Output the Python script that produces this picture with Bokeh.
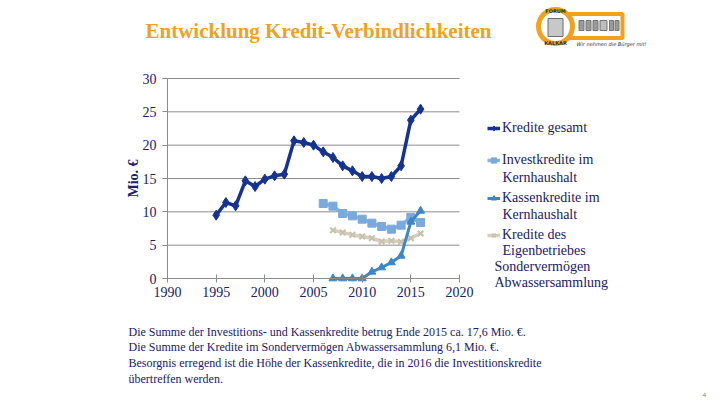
import math
from bokeh.plotting import figure
from bokeh.models import Range1d, Label, Legend, LegendItem, FixedTicker
from bokeh.embed import file_html
from bokeh.resources import INLINE

# ---------------- data ----------------
years_gesamt = list(range(1995, 2017))
kredite_gesamt = [9.5, 11.4, 10.9, 14.65, 13.8, 14.9, 15.4, 15.65, 20.65, 20.4, 20.0,
                  19.0, 18.15, 16.9, 16.15, 15.3, 15.3, 15.0, 15.3, 16.9, 23.75, 25.4]
years_invest = list(range(2006, 2017))
investkredite = [11.25, 10.85, 9.75, 9.4, 8.9, 8.3, 7.8, 7.4, 8.0, 9.15, 8.4]
years_kassen = list(range(2007, 2017))
kassenkredite = [0, 0, 0, 0, 1.0, 1.65, 2.4, 3.4, 8.5, 10.15]
years_abwasser = list(range(2007, 2017))
abwasser = [7.25, 6.9, 6.55, 6.3, 6.05, 5.55, 5.65, 5.5, 6.05, 6.75]

x_ticks = [1990, 1995, 2000, 2005, 2010, 2015, 2020]
y_ticks = [0, 5, 10, 15, 20, 25, 30]

title_text = "Entwicklung Kredit-Verbindlichkeiten"
y_label = "Mio. €"
notes = [
    "Die Summe der Investitions- und Kassenkredite betrug Ende 2015 ca. 17,6 Mio. €.",
    "Die Summe der Kredite im Sondervermögen Abwassersammlung 6,1 Mio. €.",
    "Besorgnis erregend ist die Höhe der Kassenkredite, die in 2016 die Investitionskredite",
    "übertreffen werden.",
]

SERIF = "Liberation Serif"
NAVY = "#16348f"
TEXT = "#20206a"
ORANGE = "#f2a11f"
C_INV = "#86b3e0"
C_KAS = "#3d86c6"
C_ABW = "#d6cebd"
GRID = "#8c8c8c"

# ---------------- slide geometry (canvas = whole slide area) ----------------
W, H = 712, 397
PAGE = 0                     # canvas origin in slide pixels
PX_L, PX_R = 167, 459        # slide x of 1990 / 2020
PY_B, PY_T = 278, 78         # slide y of 0 / 30
X0, X1 = x_ticks[0], x_ticks[-1]
Y0, Y1 = y_ticks[0], y_ticks[-1]
sx = (PX_R - PX_L) / (X1 - X0)
sy = (PY_B - PY_T) / (Y1 - Y0)
x_start = X0 - (PX_L - PAGE) / sx
x_end = X1 + (PAGE + W - PX_R) / sx
y_start = Y0 - (PAGE + H - PY_B) / sy
y_end = Y1 + (PY_T - PAGE) / sy

p = figure(width=W, height=H, x_range=Range1d(x_start, x_end), y_range=Range1d(y_start, y_end),
           toolbar_location=None, output_backend="svg", min_border=0)
p.outline_line_color = None
p.grid.visible = False
p.background_fill_color = "white"

# slide-pixel ranges for decoration
p.extra_x_ranges = {"px": Range1d(PAGE, PAGE + W)}
p.extra_y_ranges = {"px": Range1d(PAGE + H, PAGE)}

# axes drawn at fixed data locations
p.xaxis.fixed_location = Y0
p.yaxis.fixed_location = X0
p.xaxis.bounds = (X0, X1)
p.yaxis.bounds = (Y0, Y1)
p.xaxis.ticker = FixedTicker(ticks=x_ticks)
p.yaxis.ticker = FixedTicker(ticks=y_ticks)
for ax in (p.xaxis[0], p.yaxis[0]):
    ax.axis_line_color = GRID
    ax.major_tick_line_color = GRID
    ax.minor_tick_line_color = None
    ax.major_label_text_font = SERIF
    ax.major_label_text_font_size = "14px"
    ax.major_label_text_color = TEXT
p.xaxis.major_tick_in = 4
p.xaxis.major_tick_out = 4
p.xaxis.major_label_standoff = 4
p.yaxis.major_tick_in = 0
p.yaxis.major_tick_out = 5
p.yaxis.major_label_standoff = 6

# horizontal grid lines at the y ticks, spanning the x tick range
p.segment(x0=[X0] * (len(y_ticks) - 1), x1=[X1] * (len(y_ticks) - 1),
          y0=y_ticks[1:], y1=y_ticks[1:], line_color=GRID, line_width=1)

# ---------------- series ----------------
r1 = p.line(years_gesamt, kredite_gesamt, line_color=NAVY, line_width=3.5)
s1 = p.scatter(years_gesamt, kredite_gesamt, marker="diamond", size=10, fill_color=NAVY, line_color=NAVY)
r2 = p.line(years_invest, investkredite, line_color=C_INV, line_width=3.5)
s2 = p.scatter(years_invest, investkredite, marker="square", size=8, fill_color="#7aa9dc", line_color="#7aa9dc")
r4 = p.line(years_abwasser, abwasser, line_color=C_ABW, line_width=3.5)
s4 = p.scatter(years_abwasser, abwasser, marker="x", size=8, line_color="#c9c0ac", line_width=2)
r3 = p.line(years_kassen, kassenkredite, line_color=C_KAS, line_width=3)
s3 = p.scatter(years_kassen, kassenkredite, marker="triangle", size=8, fill_color=C_KAS, line_color=C_KAS)

# ---------------- legend ----------------
legend_specs = [
    ("Kredite gesamt", [r1, s1], 128),
    ("Investkredite im", [r2, s2], 160),
    ("Kassenkredite im", [r3, s3], 198),
    ("Kredite des", [r4, s4], 235),
]
ITEM_H = 16
for label, rends, page_y in legend_specs:
    lg = Legend(items=[LegendItem(label=label, renderers=rends)],
                location=(487 - PAGE, PAGE + H - (page_y + ITEM_H / 2)),
                padding=0, margin=0, spacing=0, border_line_color=None,
                background_fill_alpha=0, label_height=ITEM_H, glyph_height=ITEM_H, glyph_width=13,
                label_standoff=2, label_text_font=SERIF, label_text_font_size="14px",
                label_text_color=TEXT)
    p.add_layout(lg, "center")


def page_label(text, x, y, size, color=TEXT, font=SERIF, style="normal", align="left", angle=0):
    p.add_layout(Label(x=x - PAGE, y=PAGE + H - y, x_units="screen", y_units="screen", text=text,
                       text_font=font, text_font_style=style, text_font_size=size,
                       text_color=color, text_align=align, text_baseline="middle", angle=angle))


for t, x, y in [("Kernhaushalt", 502, 177), ("Kernhaushalt", 502, 214), ("Eigenbetriebes", 502, 250),
                ("Sondervermögen", 494, 266), ("Abwassersammlung", 494, 282)]:
    page_label(t, x, y, "14px")

page_label(y_label, 133, 178, "14px", style="bold", align="center", angle=math.pi / 2)
page_label(title_text, 145, 30, "21px", color=ORANGE, style="bold")

for i, t in enumerate(notes):
    page_label(t, 128, 331 + i * 15.7, "12px")

page_label("4", 702, 394, "6px", color="#888888", font="DejaVu Sans")

# ---------------- logo (decorative) ----------------
kw = dict(x_range_name="px", y_range_name="px")
p.rect(x=592, y=25.5, width=60, height=24, fill_color="white", line_color=ORANGE, line_width=4, **kw)
for i in range(3):
    p.rect(x=581 + i * 7, y=25, width=5, height=10, fill_color="#9a9a9a", line_color="#777777", **kw)
p.rect(x=603, y=25, width=7, height=10, fill_color="#bdbdbd", line_color="#777777", **kw)
for i in range(2):
    p.rect(x=611 + i * 5.5, y=25, width=4, height=10, fill_color="#9a9a9a", line_color="#777777", **kw)
p.circle(x=555, y=26, radius=15, fill_color="white", line_color=None, **kw)
p.rect(x=555, y=27, width=15, height=18, fill_color="#c8c8c8", line_color="#6d6d6d", **kw)
p.annulus(x=555, y=26, inner_radius=14.5, outer_radius=19.5, fill_color=ORANGE, line_color=None, **kw)
page_label("FORUM", 555, 10, "5px", color="#333333", font="DejaVu Sans", style="bold", align="center")
page_label("KALKAR", 555, 42.5, "5px", color="#333333", font="DejaVu Sans", style="bold", align="center")
page_label("Wir nehmen die Bürger mit!", 576, 43, "5px", color="#333333", font="DejaVu Sans", style="italic")

open("out.html", "w").write(file_html(p, INLINE))
